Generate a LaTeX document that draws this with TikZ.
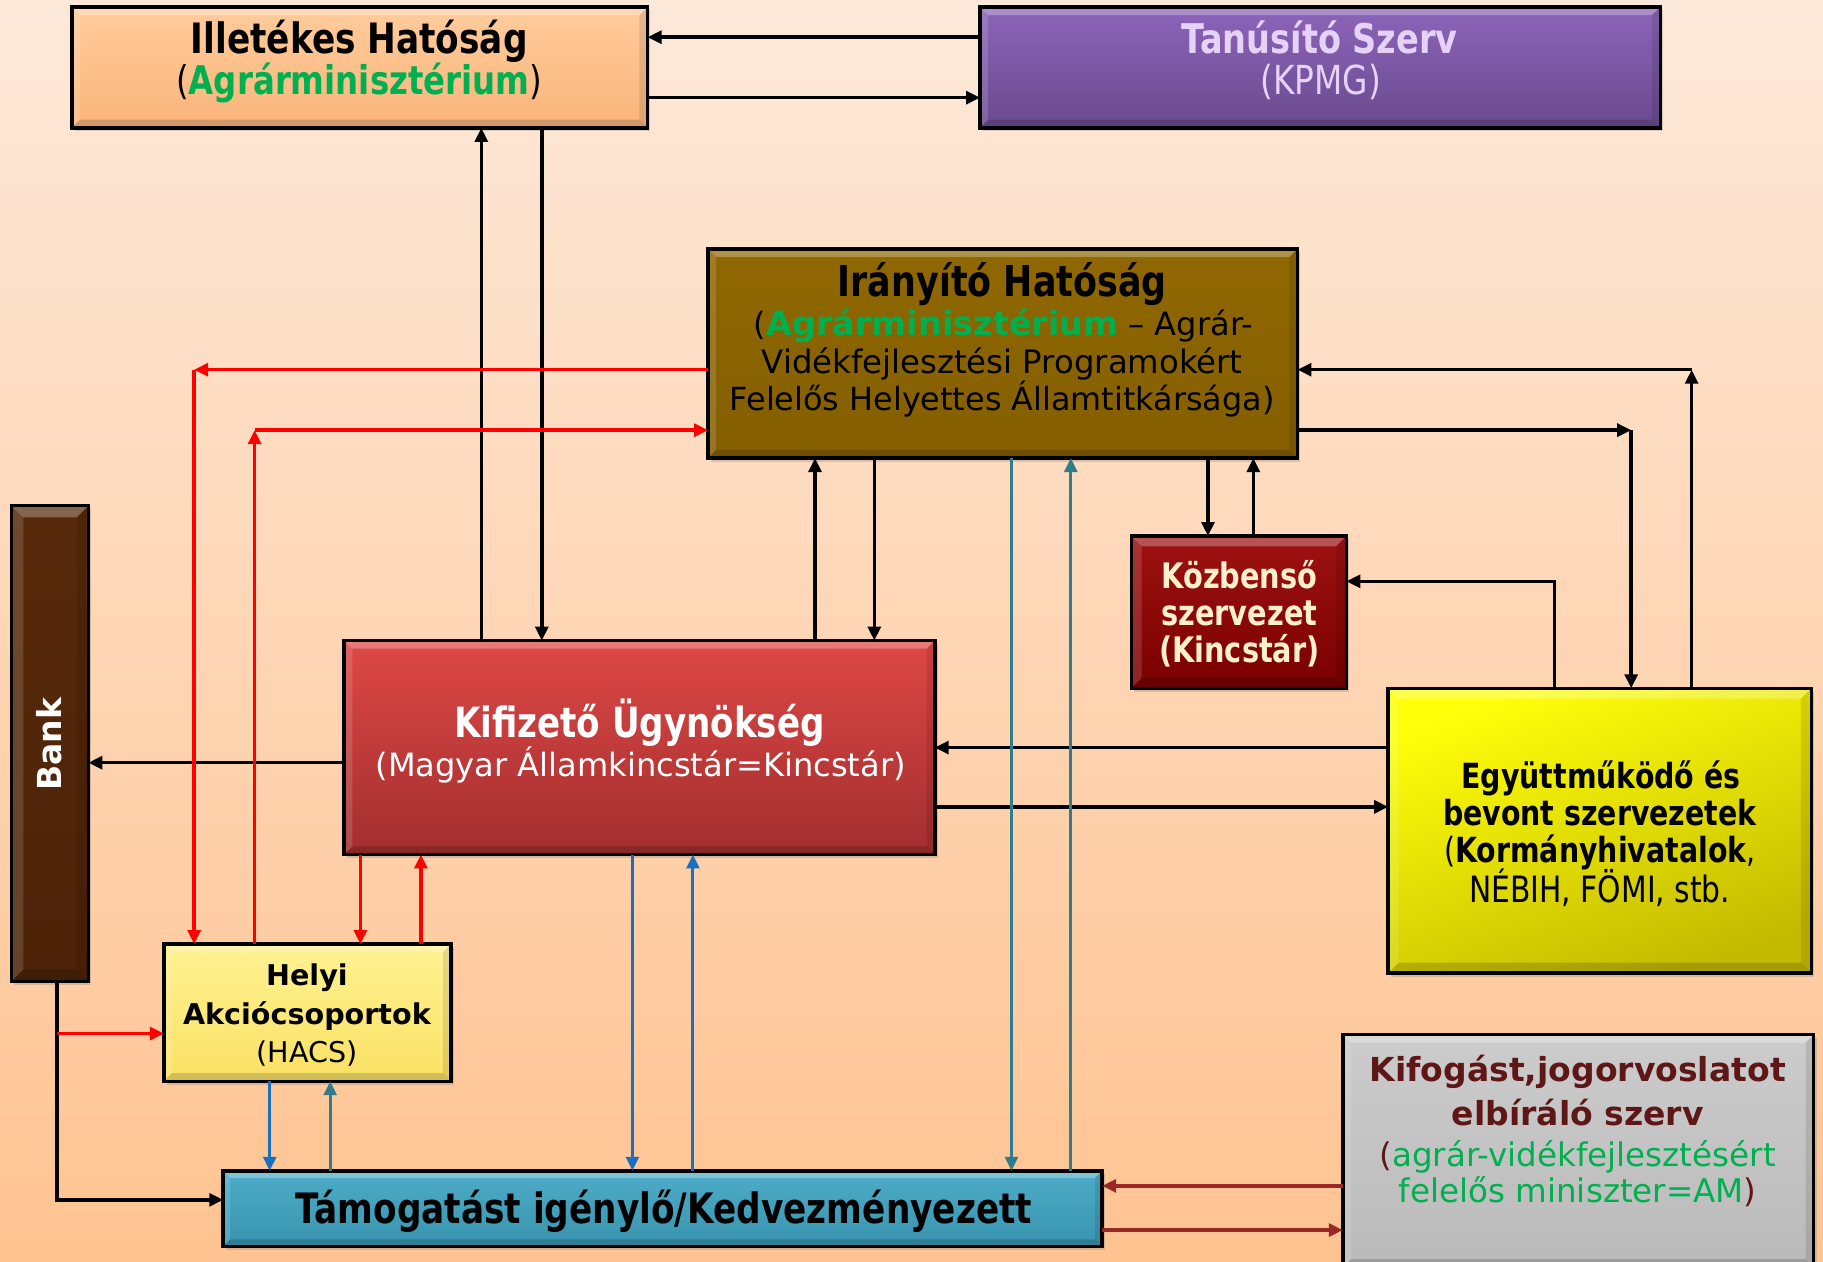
\documentclass[tikz,border=0pt]{standalone}
\usepackage{fontspec}
\setmainfont{DejaVu Sans}
\newfontfamily\verdana{DejaVu Sans}
\newfontfamily\tahoma{DejaVu Sans}[FakeStretch=0.82]
\usetikzlibrary{arrows.meta,shadows}

\definecolor{bgtop}{RGB}{253,233,218}
\definecolor{bgbot}{RGB}{255,195,145}
\definecolor{agr}{RGB}{0,176,80}
\definecolor{illA}{RGB}{255,204,156}
\definecolor{illB}{RGB}{250,180,122}
\definecolor{tanA}{RGB}{140,100,186}
\definecolor{tanB}{RGB}{106,74,142}
\definecolor{tantext}{RGB}{230,210,246}
\definecolor{iraA}{RGB}{144,104,2}
\definecolor{iraB}{RGB}{132,94,0}
\definecolor{kozA}{RGB}{158,18,18}
\definecolor{kozB}{RGB}{122,0,0}
\definecolor{koztext}{RGB}{255,240,205}
\definecolor{egyA}{RGB}{255,255,10}
\definecolor{egyB}{RGB}{196,186,0}
\definecolor{bankA}{RGB}{88,42,12}
\definecolor{bankB}{RGB}{76,34,8}
\definecolor{kifA}{RGB}{222,72,70}
\definecolor{kifB}{RGB}{162,46,46}
\definecolor{helA}{RGB}{255,242,146}
\definecolor{helB}{RGB}{250,225,100}
\definecolor{tamA}{RGB}{78,172,200}
\definecolor{tamB}{RGB}{56,148,174}
\definecolor{fogA}{RGB}{204,204,204}
\definecolor{fogB}{RGB}{186,186,186}
\definecolor{maroontx}{RGB}{94,22,22}
\definecolor{arrmar}{RGB}{155,40,40}
\definecolor{arrblue}{RGB}{26,112,192}
\definecolor{arrteal}{RGB}{46,124,140}

\newcommand\Tline[4]{\node[txt,font=#3,anchor=base] (#1) at (#2) {#4};}

\begin{document}
\begin{tikzpicture}[x=0.5pt,y=-0.5pt,
  box/.style={draw=black, line width=1.5pt, inner sep=0pt, outer sep=0pt,
    drop shadow={opacity=0.3, shadow xshift=1.2pt, shadow yshift=-1.5pt}},
  txt/.style={inner sep=0pt, align=center},
  arr/.style={line width=1.5pt, -{Triangle[length=6pt,width=5.5pt]}},
  redarr/.style={arr, red},
  bluearr/.style={line width=1.3pt, arrblue, -{Triangle[length=6pt,width=5.5pt]}},
  tealarr/.style={line width=1.3pt, arrteal, -{Triangle[length=6pt,width=5.5pt]}},
  mararr/.style={line width=1.5pt, arrmar, -{Triangle[length=6pt,width=5.5pt]}},
]
\useasboundingbox (0,0) rectangle (1568,1085);
\shade[top color=bgtop, bottom color=bgbot] (0,0) rectangle (1568,1085);

% boxes
\node[box, top color=illA, bottom color=illB, minimum width=247.5pt, minimum height=52pt] (ill) at (309.5,58) {};
\node[box, top color=tanA, bottom color=tanB, minimum width=292.5pt, minimum height=52pt] (tan) at (1135.5,58) {};
\node[box, top color=iraA, bottom color=iraB, minimum width=253.5pt, minimum height=90pt] (ira) at (862.5,304) {};
\node[box, top color=kozA, bottom color=kozB, minimum width=92.5pt, minimum height=65.5pt] (koz) at (1065.5,526.5) {};
\node[box, top color=egyA, bottom color=egyB, shading angle=20, minimum width=182pt, minimum height=122.5pt] (egy) at (1376,714.5) {};
\node[box, top color=bankA, bottom color=bankB, minimum width=33pt, minimum height=204.5pt] (bank) at (43,639.5) {};
\node[box, top color=kifA, bottom color=kifB, minimum width=254pt, minimum height=92pt] (kif) at (550,643) {};
\node[box, top color=helA, bottom color=helB, minimum width=123.5pt, minimum height=59pt] (hel) at (264.5,871) {};
\node[box, top color=tamA, bottom color=tamB, minimum width=378pt, minimum height=32.5pt] (tam) at (570,1039.5) {};
\node[box, top color=fogA, bottom color=fogB, minimum width=202.5pt, minimum height=100pt] (fog) at (1357.5,990) {};

% bevels
\foreach \n/\d in {ill/7,tan/7,ira/7,koz/9,egy/9,bank/10,kif/7,hel/7,tam/6,fog/7}{
  \fill[white,opacity=0.28] (\n.north west) -- (\n.north east) -- ([shift={(-\d,\d)}]\n.north east) -- ([shift={(\d,\d)}]\n.north west) -- cycle;
  \fill[white,opacity=0.14] (\n.north west) -- (\n.south west) -- ([shift={(\d,-\d)}]\n.south west) -- ([shift={(\d,\d)}]\n.north west) -- cycle;
  \fill[black,opacity=0.16] (\n.south west) -- (\n.south east) -- ([shift={(-\d,-\d)}]\n.south east) -- ([shift={(\d,-\d)}]\n.south west) -- cycle;
  \fill[black,opacity=0.10] (\n.north east) -- (\n.south east) -- ([shift={(-\d,-\d)}]\n.south east) -- ([shift={(-\d,\d)}]\n.north east) -- cycle;
  \draw[line width=1.5pt] (\n.north west) rectangle (\n.south east);
}

% texts
\Tline{ill1}{309,46}{\tahoma\bfseries\fontsize{18}{20}\selectfont}{Illetékes Hatóság}
\Tline{ill2}{309,81}{\tahoma\bfseries\fontsize{17}{20}\selectfont}{{\mdseries(}\textcolor{agr}{Agrárminisztérium}{\mdseries)}}

\Tline{tan1}{1135,46}{\tahoma\bfseries\fontsize{17.6}{20}\selectfont\color{tantext}}{Tanúsító Szerv}
\Tline{tan2}{1136,81}{\tahoma\fontsize{17.2}{20}\selectfont\color{tantext}}{(KPMG)}

\Tline{ira1}{862,255}{\tahoma\bfseries\fontsize{18.3}{20}\selectfont}{Irányító Hatóság}
\Tline{ira2}{863,289}{\verdana\fontsize{13.8}{16}\selectfont}{(\textcolor{agr}{\bfseries\fontsize{14.4}{16}\selectfont Agrárminisztérium} – Agrár-}
\Tline{ira3}{862,321}{\verdana\fontsize{13.9}{16}\selectfont}{Vidékfejlesztési Programokért}
\Tline{ira4}{862,353}{\verdana\fontsize{13.7}{16}\selectfont}{Felelős Helyettes Államtitkársága)}

\Tline{koz1}{1066,506}{\tahoma\bfseries\fontsize{15.1}{16}\selectfont\color{koztext}}{Közbenső}
\Tline{koz2}{1066,538}{\tahoma\bfseries\fontsize{15.1}{16}\selectfont\color{koztext}}{szervezet}
\Tline{koz3}{1066,570}{\tahoma\bfseries\fontsize{15.1}{16}\selectfont\color{koztext}}{(Kincstár)}

\Tline{egy1}{1377,678}{\tahoma\bfseries\fontsize{14.9}{16}\selectfont}{Együttműködő és}
\Tline{egy2}{1376,710}{\tahoma\bfseries\fontsize{14.9}{16}\selectfont}{bevont szervezetek}
\Tline{egy3}{1376,742}{\tahoma\bfseries\fontsize{14.9}{16}\selectfont}{{\mdseries(}Kormányhivatalok{\mdseries,}}
\Tline{egy4}{1376,776}{\tahoma\fontsize{15.6}{16}\selectfont}{NÉBIH, FÖMI, stb.}

\Tline{kif1}{550,634}{\tahoma\bfseries\fontsize{17.9}{20}\selectfont\color{white}}{Kifizető Ügynökség}
\Tline{kif2}{551,668}{\verdana\fontsize{13.8}{16}\selectfont\color{white}}{(Magyar Államkincstár=Kincstár)}

\Tline{hel1}{264,848}{\verdana\bfseries\fontsize{12.3}{15}\selectfont}{Helyi}
\Tline{hel2}{264,881}{\verdana\bfseries\fontsize{12.3}{15}\selectfont}{Akciócsoportok}
\Tline{hel3}{264,914}{\verdana\fontsize{12.3}{15}\selectfont}{(HACS)}

\Tline{tam1}{571,1052}{\tahoma\bfseries\fontsize{18}{20}\selectfont}{Támogatást igénylő/Kedvezményezett}

\Tline{fog1}{1357,930}{\verdana\bfseries\fontsize{14.2}{16}\selectfont\color{maroontx}}{Kifogást,jogorvoslatot}
\Tline{fog2}{1357,968}{\verdana\bfseries\fontsize{14.2}{16}\selectfont\color{maroontx}}{elbíráló szerv}
\Tline{fog3}{1357,1003}{\verdana\fontsize{14}{16}\selectfont\color{maroontx}}{(\textcolor{agr}{agrár-vidékfejlesztésért}}
\Tline{fog4}{1357,1034}{\verdana\fontsize{14}{16}\selectfont\color{agr}}{felelős miniszter=AM\textcolor{maroontx}{)}}

\node[txt, rotate=90, font=\verdana\bfseries\fontsize{14.2}{16}\selectfont, text=white] (bank1) at (42,640) {Bank};

% black connectors
\draw[arr] (tan.west |- 0,32) -- (ill.east |- 0,32);
\draw[arr] (ill.east |- 0,84) -- (tan.west |- 0,84);
\draw[arr] (414,0 |- kif.north) -- (414,0 |- ill.south);
\draw[arr] (466,0 |- ill.south) -- (466,0 |- kif.north);
\draw[arr] (701,0 |- kif.north) -- (701,0 |- ira.south);
\draw[arr] (752,0 |- ira.south) -- (752,0 |- kif.north);
\draw[arr] (1039,0 |- ira.south) -- (1039,0 |- koz.north);
\draw[arr] (1078,0 |- koz.north) -- (1078,0 |- ira.south);
\draw[arr] (1337,0 |- egy.north) -- (1337,500) -- (koz.east |- 0,500);
\coordinate (c10) at (1403,370);
\draw[arr] (ira.east |- c10) -- (c10);
\draw[arr] (c10) -- (c10 |- egy.north);
\coordinate (c11) at (1455,318);
\draw[arr] (c11 |- egy.north) -- (c11);
\draw[arr] (c11) -- (ira.east |- c11);
\draw[arr] (egy.west |- 0,643) -- (kif.east |- 0,643);
\draw[arr] (kif.east |- 0,694) -- (egy.west |- 0,694);
\draw[arr] (kif.west |- 0,656) -- (bank.east |- 0,656);
\draw[arr] (49,0 |- bank.south) -- (49,1032) -- (tam.west |- 0,1032);

% red connectors
\coordinate (c15) at (167,318);
\draw[redarr] (ira.west |- c15) -- (c15);
\draw[redarr] (c15) -- (c15 |- hel.north);
\coordinate (c16) at (219,370);
\draw[redarr] (c16 |- hel.north) -- (c16);
\draw[redarr] (c16) -- (ira.west |- c16);
\draw[redarr] (310,0 |- kif.south) -- (310,0 |- hel.north);
\draw[redarr] (362,0 |- hel.north) -- (362,0 |- kif.south);
\coordinate (bj) at (49,889);
\draw[redarr] (bj) -- (hel.west |- bj);

% blue / teal connectors
\draw[bluearr] (232,0 |- hel.south) -- (232,0 |- tam.north);
\draw[tealarr] (284,0 |- tam.north) -- (284,0 |- hel.south);
\draw[bluearr] (544,0 |- kif.south) -- (544,0 |- tam.north);
\draw[bluearr] (596,0 |- tam.north) -- (596,0 |- kif.south);
\draw[tealarr] (870,0 |- ira.south) -- (870,0 |- tam.north);
\draw[tealarr] (921,0 |- tam.north) -- (921,0 |- ira.south);

% maroon connectors
\draw[mararr] (fog.west |- 0,1020) -- (tam.east |- 0,1020);
\draw[mararr] (tam.east |- 0,1058) -- (fog.west |- 0,1058);
\end{tikzpicture}
\end{document}
